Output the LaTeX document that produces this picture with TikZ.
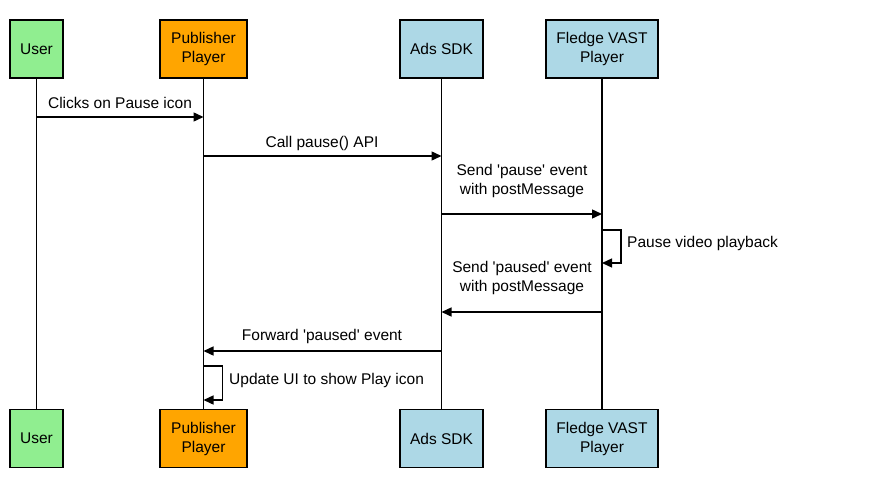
\documentclass[tikz,border=0pt]{standalone}
\usepackage{fontspec}
\setmainfont{Liberation Sans}[Ligatures=TeXOff]
\usetikzlibrary{arrows.meta}
\definecolor{cgreen}{HTML}{90EE90}
\definecolor{corange}{HTML}{FFA500}
\definecolor{cblue}{HTML}{ADD8E6}
\begin{document}
\begin{tikzpicture}[x=1pt,y=-1pt,
  actor/.style={draw=black,line width=1.8pt,minimum height=58pt,inner sep=0pt,align=center,font=\fontsize{15.5}{19}\selectfont},
  life/.style={line width=1.7pt},
  msg/.style={line width=1.4pt,-{Triangle[length=10pt,width=9pt]}},
  lbl/.style={font=\fontsize{15.5}{19}\selectfont,align=center,inner sep=0pt}]
\useasboundingbox (0,0) rectangle (880,487);
\fill[white] (0,0) rectangle (880,487);
% top actors
\node[actor,fill=cgreen,minimum width=53pt] (uT) at (36.5,49) {User};
\node[actor,fill=corange,minimum width=87pt] (pT) at (203.5,49) {Publisher\\Player};
\node[actor,fill=cblue,minimum width=83pt] (aT) at (441.5,49) {Ads SDK};
\node[actor,fill=cblue,minimum width=112pt] (fT) at (602,49) {Fledge VAST\\Player};
% bottom actors
\node[actor,fill=cgreen,minimum width=53pt] (uB) at (36.5,438.5) {User};
\node[actor,fill=corange,minimum width=87pt] (pB) at (203.5,438.5) {Publisher\\Player};
\node[actor,fill=cblue,minimum width=83pt] (aB) at (441.5,438.5) {Ads SDK};
\node[actor,fill=cblue,minimum width=112pt] (fB) at (602,438.5) {Fledge VAST\\Player};
% lifelines
\draw[life] (uT) -- (uB);
\draw[life] (pT) -- (pB);
\draw[life] (aT) -- (aB);
\draw[life] (fT) -- (fB);
% coordinates on lifelines
\coordinate (u1) at (uT |- 0,117);
\coordinate (p1) at (pT |- 0,117);
\coordinate (p2) at (pT |- 0,156);
\coordinate (a2) at (aT |- 0,156);
\coordinate (a3) at (aT |- 0,214);
\coordinate (f3) at (fT |- 0,214);
\coordinate (f4s) at (fT |- 0,230);
\coordinate (f4e) at (fT |- 0,263);
\coordinate (f5) at (fT |- 0,312);
\coordinate (a5) at (aT |- 0,312);
\coordinate (a6) at (aT |- 0,351);
\coordinate (p6) at (pT |- 0,351);
\coordinate (p7s) at (pT |- 0,366);
\coordinate (p7e) at (pT |- 0,400);
% messages
\draw[msg] (u1) -- (p1);
\node[lbl] (l1) at (120,103) {Clicks on Pause icon};
\draw[msg] (p2) -- (a2);
\node[lbl] (l2) at (322,143) {Call pause() API};
\draw[msg] (a3) -- (f3);
\node[lbl] (l3) at (522,181) {Send 'pause' event\\with postMessage};
\draw[msg] (f4s) -- ++(19,0) |- (f4e);
\node[lbl,anchor=west] (l4) at (627,243) {Pause video playback};
\draw[msg] (f5) -- (a5);
\node[lbl] (l5) at (522,278) {Send 'paused' event\\with postMessage};
\draw[msg] (a6) -- (p6);
\node[lbl] (l6) at (322,336) {Forward 'paused' event};
\draw[msg] (p7s) -- ++(19,0) |- (p7e);
\node[lbl,anchor=west] (l7) at (229,380) {Update UI to show Play icon};
\end{tikzpicture}
\end{document}
